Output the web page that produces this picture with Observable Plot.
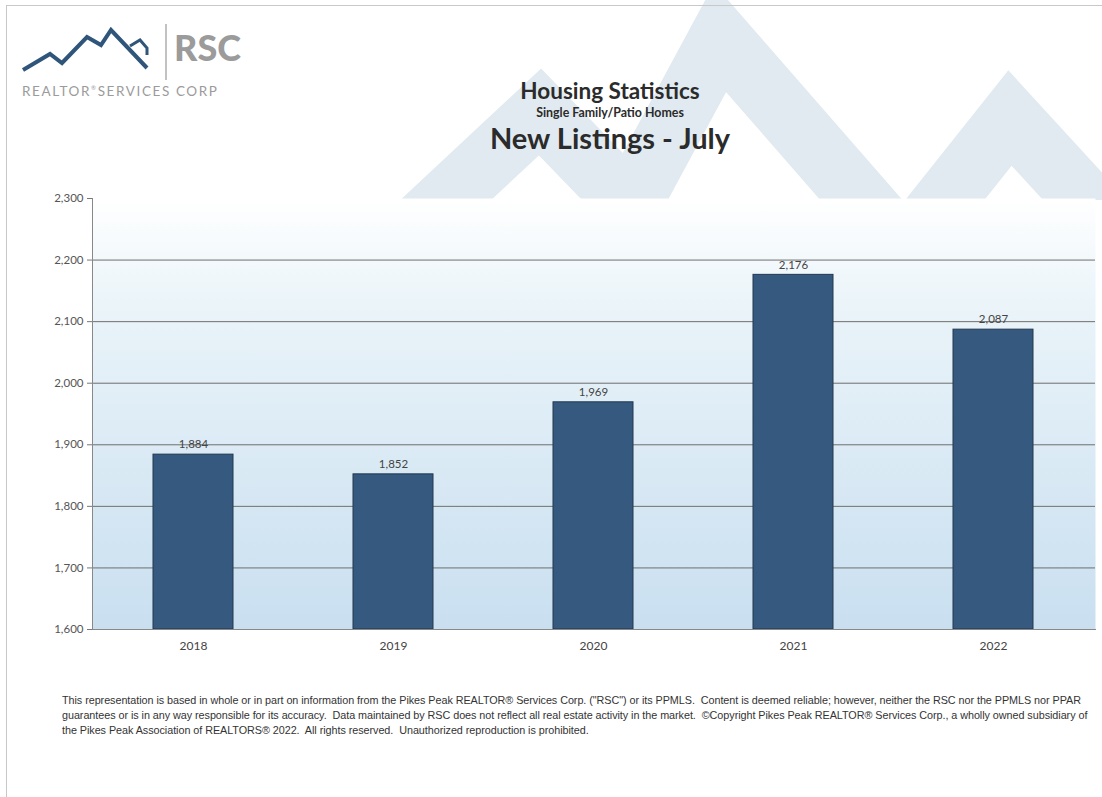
<!DOCTYPE html>
<html>
<head>
<meta charset="utf-8">
<script src="https://cdn.jsdelivr.net/npm/d3@7"></script>
<script src="https://cdn.jsdelivr.net/npm/@observablehq/plot@0.6"></script>
<style>
  html, body { margin: 0; padding: 0; background: #fff; }
  #page { position: relative; width: 1102px; height: 797px; overflow: hidden; font-family: Lato, "Open Sans", sans-serif; }
  #border { position: absolute; left: 6px; top: 5px; width: 1110px; height: 800px; border-left: 1px solid #c8c8c8; border-top: 1px solid #c8c8c8; }
  #watermark { position: absolute; left: 0; top: 0; }
  #logo { position: absolute; left: 0; top: 0; }
  #titles { position: absolute; left: 410px; width: 400px; top: 77px; text-align: center; color: #2b2b2b; }
  #t1 { font-size: 22.5px; font-weight: 700; line-height: 27px; }
  #t2 { font-size: 12.4px; font-weight: 700; line-height: 17px; }
  #t3 { font-size: 29px; font-weight: 700; line-height: 34px; }
  #chart { position: absolute; left: 0; top: 185px; }
  #caption { position: absolute; left: 62px; top: 693px; font-family: "Liberation Sans", sans-serif; font-size: 10.8px; letter-spacing: -0.05px; line-height: 15px; color: #333; white-space: nowrap; }
</style>
</head>
<body>
<div id="page">
  <svg id="watermark" width="1102" height="200">
    <polyline points="360,280 540,112 630,205 720,38 905,250 1010,118 1140,260" fill="none" stroke="#e0eaf0" stroke-width="62" stroke-linejoin="miter"/>
  </svg>
  <div id="border"></div>
  <svg id="logo" width="300" height="110">
    <polyline points="23,70 50,54 62,63 87,37 101,45 111,30 147,68" fill="none" stroke="#2f567a" stroke-width="4" stroke-linejoin="miter"/>
    <polyline points="130,46 140,40 147,48 147,55" fill="none" stroke="#2f567a" stroke-width="3"/>
    <line x1="166" y1="24" x2="166" y2="80" stroke="#999" stroke-width="1.2"/>
    <text x="174" y="61" font-family="Lato, sans-serif" font-weight="900" font-size="36" fill="#9b9b9b">RSC</text>
    <text x="22" y="96" font-family="Lato, sans-serif" font-size="13.5" letter-spacing="1.6" fill="#9b9b9b">REALTOR<tspan font-size="6" dy="-6">®</tspan><tspan dy="6">SERVICES CORP</tspan></text>
  </svg>
  <div id="titles">
    <div id="t1">Housing Statistics</div>
    <div id="t2">Single Family/Patio Homes</div>
    <div id="t3">New Listings - July</div>
  </div>
  <div id="chart"></div>
  <div id="caption">This representation is based in whole or in part on information from the Pikes Peak REALTOR® Services Corp. ("RSC") or its PPMLS.&nbsp; Content is deemed reliable; however, neither the RSC nor the PPMLS nor PPAR<br>guarantees or is in any way responsible for its accuracy.&nbsp; Data maintained by RSC does not reflect all real estate activity in the market.&nbsp; ©Copyright Pikes Peak REALTOR® Services Corp., a wholly owned subsidiary of<br>the Pikes Peak Association of REALTORS® 2022.&nbsp; All rights reserved.&nbsp; Unauthorized reproduction is prohibited.</div>
</div>
<script>
const years = ["2018", "2019", "2020", "2021", "2022"];
const newListings = [1884, 1852, 1969, 2176, 2087];
const yTicks = [1600, 1700, 1800, 1900, 2000, 2100, 2200, 2300];
const gridValues = [1700, 1800, 1900, 2000, 2100, 2200];

const data = years.map((y, i) => ({year: y, value: newListings[i]}));
const fmt = d3.format(",");

const plot = Plot.plot({
  width: 1102,
  height: 475,
  marginLeft: 92,
  marginRight: 7,
  marginTop: 13,
  marginBottom: 31,
  style: {fontFamily: "Lato, 'Open Sans', sans-serif", fontSize: "11px", color: "#555", background: "transparent"},
  x: {domain: years, paddingInner: 0.6, paddingOuter: 0.3, label: null},
  y: {domain: [1600, 2300], label: null},
  marks: [
    Plot.frame({fill: "url(#plotBg)", stroke: "none"}),
    Plot.ruleY(gridValues, {stroke: "#6f6f6f", strokeWidth: 1}),
    Plot.barY(data, {x: "year", y1: 1600, y2: "value", fill: "#36597f", stroke: "#22384f", strokeWidth: 1}),
    Plot.text(data, {x: "year", y: "value", text: d => fmt(d.value), dy: -10, fill: "#444", fontSize: 11.5}),
    Plot.axisY({ticks: yTicks, tickFormat: fmt, tickSize: 5, tickPadding: 4, stroke: "#777", fill: "#555", fontSize: 11.5}),
    Plot.axisX({tickSize: 0, tickPadding: 12, fill: "#444", fontSize: 12}),
    Plot.frame({anchor: "left", stroke: "#888"}),
    Plot.frame({anchor: "bottom", stroke: "#888"})
  ]
});

const svg = d3.select(plot);
const defs = svg.insert("defs", ":first-child");
const grad = defs.append("linearGradient").attr("id", "plotBg").attr("x1", 0).attr("y1", 0).attr("x2", 0).attr("y2", 1);
grad.append("stop").attr("offset", "0%").attr("stop-color", "#ffffff");
grad.append("stop").attr("offset", "25%").attr("stop-color", "#eaf4f9");
grad.append("stop").attr("offset", "100%").attr("stop-color", "#c9dff0");

document.getElementById("chart").appendChild(plot);
</script>
</body>
</html>
